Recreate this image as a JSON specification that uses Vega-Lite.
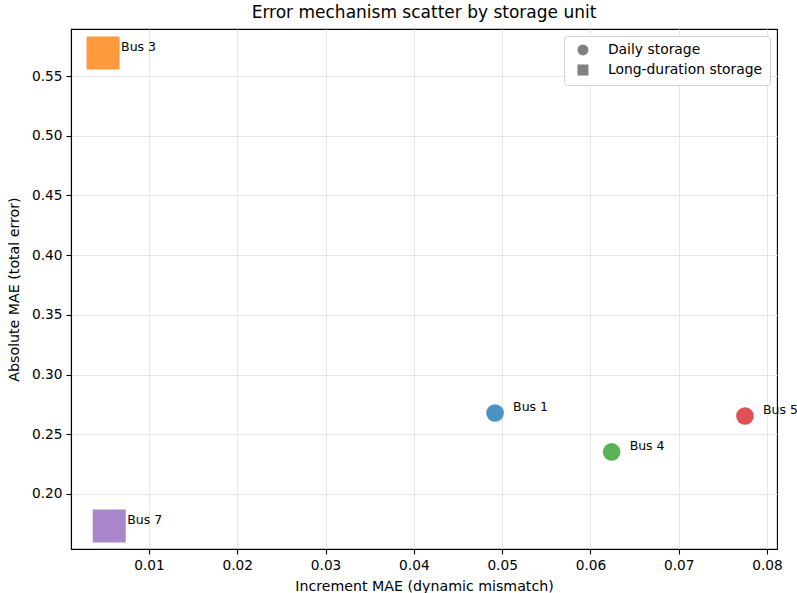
{
  "$schema": "https://vega.github.io/schema/vega-lite/v6.json",
  "width": 706,
  "height": 520,
  "autosize": "none",
  "padding": {"left": 71, "top": 29, "right": 20, "bottom": 44},
  "background": "white",
  "config": {
    "font": "DejaVu Sans",
    "view": {"stroke": "black", "strokeWidth": 1.1},
    "axis": {
      "domainColor": "black", "domainWidth": 1.1,
      "tickColor": "black", "tickSize": 5, "tickWidth": 1.1,
      "labelColor": "black", "labelFontSize": 13.7, "labelPadding": 4,
      "titleColor": "black", "titleFontSize": 14.2, "titleFontWeight": "normal",
      "gridColor": "#e6e6e6", "gridWidth": 1
    },
    "legend": {"labelFontSize": 13.9, "labelColor": "black"}
  },
  "title": {"text": "Error mechanism scatter by storage unit", "fontSize": 17, "fontWeight": "normal", "color": "black", "offset": 7},
  "data": {"values": [
    {"bus": "Bus 1", "type": "Daily storage", "inc": 0.0492, "abs": 0.2678},
    {"bus": "Bus 3", "type": "Long-duration storage", "inc": 0.0048, "abs": 0.5693},
    {"bus": "Bus 4", "type": "Daily storage", "inc": 0.0624, "abs": 0.2352},
    {"bus": "Bus 5", "type": "Daily storage", "inc": 0.0775, "abs": 0.2653},
    {"bus": "Bus 7", "type": "Long-duration storage", "inc": 0.0055, "abs": 0.1732}
  ]},
  "layer": [
    {
      "mark": {"type": "point", "filled": true, "opacity": 0.8, "clip": false},
      "encoding": {
        "x": {"field": "inc", "type": "quantitative", "title": "Increment MAE (dynamic mismatch)",
          "scale": {"domain": [0.00117, 0.08113], "nice": false, "zero": false},
          "axis": {"values": [0.01, 0.02, 0.03, 0.04, 0.05, 0.06, 0.07, 0.08], "format": ".2f", "titlePadding": 8}},
        "y": {"field": "abs", "type": "quantitative", "title": "Absolute MAE (total error)",
          "scale": {"domain": [0.1539, 0.5894], "nice": false, "zero": false},
          "axis": {"values": [0.2, 0.25, 0.3, 0.35, 0.4, 0.45, 0.5, 0.55], "format": ".2f", "titlePadding": 10}},
        "color": {"field": "bus", "type": "nominal", "legend": null,
          "scale": {"domain": ["Bus 1", "Bus 3", "Bus 4", "Bus 5", "Bus 7"], "range": ["#1f77b4", "#ff7f0e", "#2ca02c", "#d62728", "#9467bd"]}},
        "shape": {"field": "type", "type": "nominal", "title": null,
          "scale": {"domain": ["Daily storage", "Long-duration storage"], "range": ["circle", "square"]},
          "legend": {"orient": "top-right", "offset": 7, "symbolFillColor": "#808080", "symbolStrokeColor": "#808080", "symbolOpacity": 1, "symbolSize": 90, "fillColor": "white", "strokeColor": "#d0d0d0", "cornerRadius": 3, "padding": 7, "rowPadding": 4, "labelOffset": 18, "symbolOffset": 5}},
        "size": {"condition": {"test": "datum.type === 'Long-duration storage'", "value": 1089}, "value": 310}
      }
    },
    {
      "mark": {"type": "text", "align": "left", "baseline": "middle", "dx": 18, "dy": -6, "fontSize": 12.5, "color": "black", "clip": false},
      "encoding": {
        "x": {"field": "inc", "type": "quantitative"},
        "y": {"field": "abs", "type": "quantitative"},
        "text": {"field": "bus"}
      }
    }
  ]
}
